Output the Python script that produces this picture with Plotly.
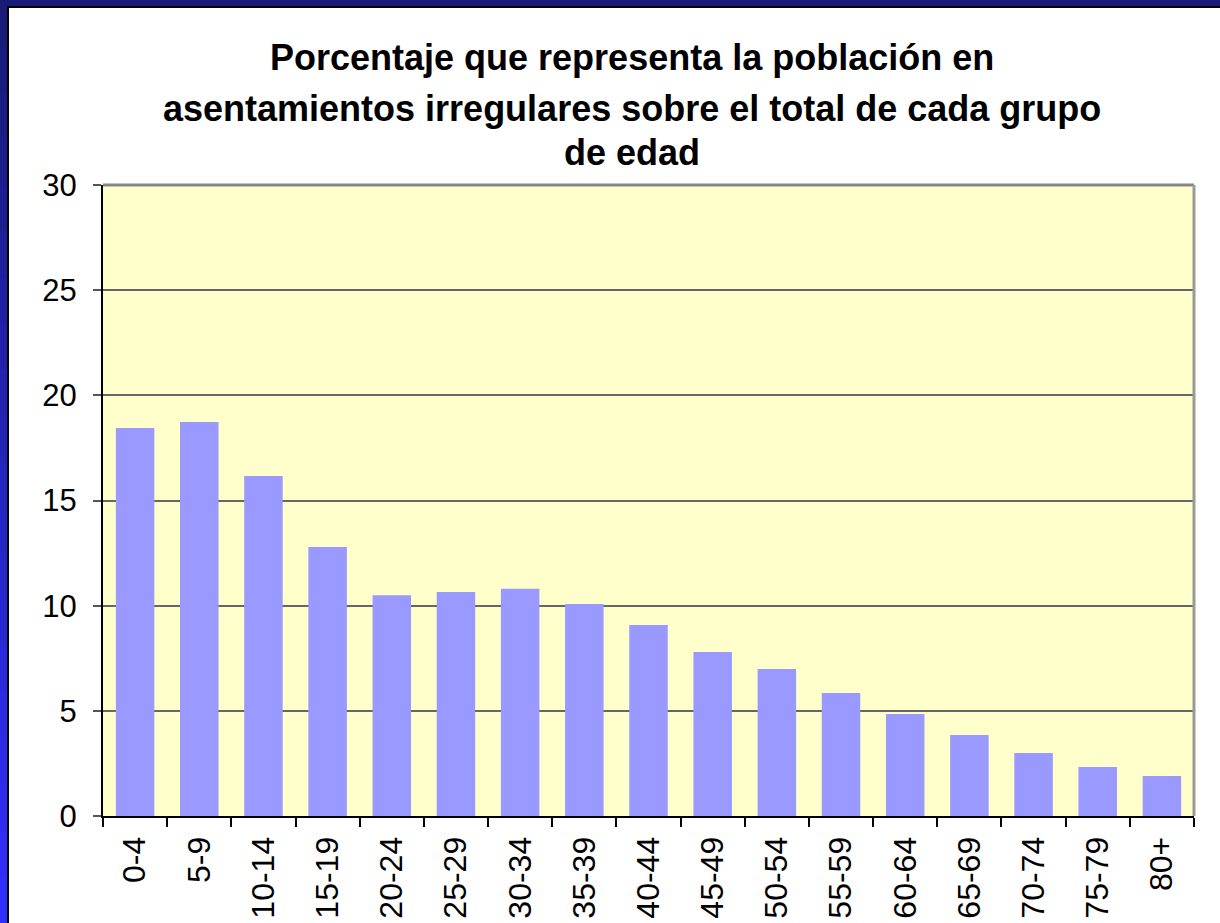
import plotly.graph_objects as go

# ---- Data ----
age_groups = ['0-4', '5-9', '10-14', '15-19', '20-24', '25-29', '30-34', '35-39', '40-44',
              '45-49', '50-54', '55-59', '60-64', '65-69', '70-74', '75-79', '80+']
pct_values = [18.45, 18.73, 16.17, 12.79, 10.5, 10.65, 10.8, 10.08, 9.08,
              7.8, 6.99, 5.85, 4.85, 3.85, 3.0, 2.33, 1.9]
y_ticks = [0, 5, 10, 15, 20, 25, 30]

title_lines = ['Porcentaje que representa la población en',
               'asentamientos irregulares sobre el total de cada grupo',
               'de edad']

FONT = 'Liberation Sans, Arial, sans-serif'

# ---- Figure ----
fig = go.Figure(go.Bar(x=age_groups, y=pct_values, marker_color='#9999ff',
                       marker_line_width=0))

fig.update_layout(width=1220, height=923, margin=dict(l=103, r=26, t=185, b=107),
                  paper_bgcolor='white', plot_bgcolor='#ffffcc', bargap=0.4,
                  showlegend=False, font=dict(family=FONT, color='black'))

fig.update_xaxes(type='category', range=[-0.5, 16.5], tickson='boundaries',
                 ticks='outside', ticklen=9, tickwidth=2, tickcolor='black',
                 tickangle=-90, tickfont=dict(size=32), ticklabelstandoff=6,
                 automargin=False, showline=True, linecolor='black', linewidth=2,
                 mirror=False, showgrid=False)
fig.update_yaxes(range=[0, 30], tickvals=y_ticks, ticks='outside', ticklen=8,
                 tickwidth=2, tickcolor='#555555', tickfont=dict(size=31),
                 ticklabelstandoff=10, automargin=False,
                 showline=True, linecolor='black', linewidth=2,
                 showgrid=True, gridcolor='#666666', gridwidth=1.5, zeroline=False)

# top and right border of the plot area
fig.add_shape(type='line', xref='paper', yref='paper', x0=0, x1=1, y0=1, y1=1,
              line=dict(color='#888888', width=3))
fig.add_shape(type='line', xref='paper', yref='paper', x0=1, x1=1, y0=0, y1=1,
              line=dict(color='#999999', width=3))

# title, three lines (wider line spacing than a plotly <br>)
for line, shift in zip(title_lines, [128, 77, 33]):
    fig.add_annotation(text='<b>' + line + '</b>', xref='paper', yref='paper',
                       x=0.485, y=1, xanchor='center', yanchor='middle', yshift=shift,
                       showarrow=False, font=dict(size=36, family=FONT, color='black'))

# slide frame: navy top strip, blue gradient strip on the left
fig.add_shape(type='rect', xref='paper', yref='paper', xsizemode='pixel', ysizemode='pixel',
              xanchor=0, yanchor=1, x0=-103, x1=1117, y0=185, y1=177,
              fillcolor='#1a1a78', line_width=0, layer='above')
fig.add_shape(type='rect', xref='paper', yref='paper', xsizemode='pixel', ysizemode='pixel',
              xanchor=0, yanchor=1, x0=-103, x1=1117, y0=179, y1=177,
              fillcolor='#000000', line_width=0, layer='above')
n_seg = 20
for k in range(n_seg):
    t = k / (n_seg - 1)
    r = int(0x1a + (0x30 - 0x1a) * t)
    g = int(0x1a + (0x30 - 0x1a) * t)
    b = int(0x78 + (0xff - 0x78) * t)
    y_top = 185 - 923 * k / n_seg
    y_bot = 185 - 923 * (k + 1) / n_seg - 1
    fig.add_shape(type='rect', xref='paper', yref='paper', xsizemode='pixel', ysizemode='pixel',
                  xanchor=0, yanchor=1, x0=-103, x1=-96, y0=y_top, y1=y_bot,
                  fillcolor='rgb(%d,%d,%d)' % (r, g, b), line_width=0, layer='above')
fig.add_shape(type='rect', xref='paper', yref='paper', xsizemode='pixel', ysizemode='pixel',
              xanchor=0, yanchor=1, x0=-96, x1=-94, y0=179, y1=-738,
              fillcolor='#000000', line_width=0, layer='above')

fig.write_html("out.html", config={'displayModeBar': False},
               post_script="document.body.style.margin='0';")
